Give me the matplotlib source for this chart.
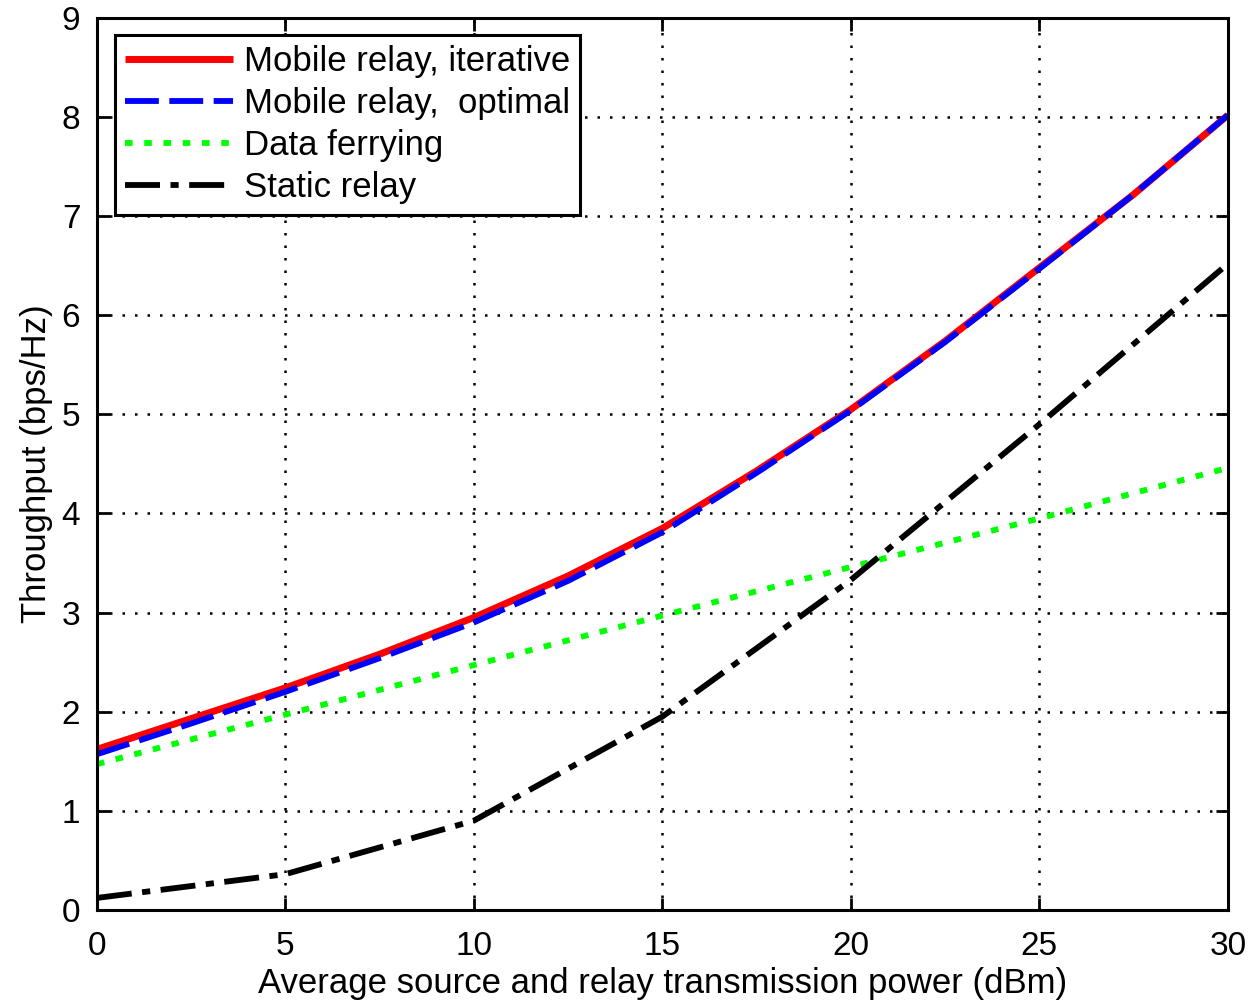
import numpy as np
import matplotlib
matplotlib.use("Agg")
import matplotlib.pyplot as plt

# values
power_dbm = [0, 2.5, 5, 7.5, 10, 12.5, 15, 17.5, 20, 22.5, 25, 27.5, 30]
mobile_iter = [1.62, 1.93, 2.24, 2.58, 2.95, 3.37, 3.85, 4.43, 5.05, 5.74, 6.48, 7.22, 8.02]
mobile_opt = [1.57, 1.88, 2.20, 2.54, 2.90, 3.32, 3.81, 4.41, 5.04, 5.73, 6.47, 7.22, 8.02]

power_5 = [0, 5, 10, 15, 20, 25, 30]
ferrying = [1.47, 1.97, 2.47, 2.97, 3.46, 3.95, 4.46]
static = [0.12, 0.36, 0.90, 1.95, 3.33, 4.90, 6.52]

labels = ["Mobile relay, iterative", "Mobile relay,  optimal",
          "Data ferrying", "Static relay"]

plt.rcParams['font.family'] = ['Liberation Sans', 'DejaVu Sans']

fig = plt.figure(figsize=(12.51, 10.02), dpi=100)
ax = fig.add_axes([0.0775, 0.092, 0.904, 0.890])

ax.plot(power_dbm, mobile_iter, color='#ff0000', lw=5, solid_capstyle='butt',
        label=labels[0])
ax.plot(power_dbm, mobile_opt, color='#0000ff', lw=4.2, dashes=(5.8, 1.8),
        label=labels[1])
ax.plot(power_5, ferrying, color='#00ff00', lw=4.2, dashes=(1.3, 2.0),
        label=labels[2])
ax.plot(power_5, static, color='black', lw=4.2, dashes=(6, 1.8, 1.4, 1.8),
        label=labels[3])

ax.set_xlim(0, 30)
ax.set_ylim(0, 9)
ax.set_xticks(np.arange(0, 31, 5))
ax.set_yticks(np.arange(0, 10, 1))
ax.grid(True, color='black', linestyle=(0, (1, 4)), linewidth=1.8)
ax.tick_params(direction='in', length=9, width=2, labelsize=24, pad=12,
               top=True, right=True)
ax.tick_params(axis='x', pad=15)
for sp in ax.spines.values():
    sp.set_linewidth(2.2)

ax.set_xlabel("Average source and relay transmission power (dBm)", fontsize=25,
              labelpad=4)
ax.set_ylabel("Throughput (bps/Hz)", fontsize=25, labelpad=6)

leg = ax.legend(loc='upper left', fontsize=25, handlelength=3.1, handletextpad=0.3,
                labelspacing=0.26, borderpad=0.3, borderaxespad=0.0,
                fancybox=False, framealpha=1, edgecolor='black',
                bbox_to_anchor=(0.016, 0.981))
leg.get_frame().set_linewidth(2.2)

fig.savefig("out.png", dpi=100)
